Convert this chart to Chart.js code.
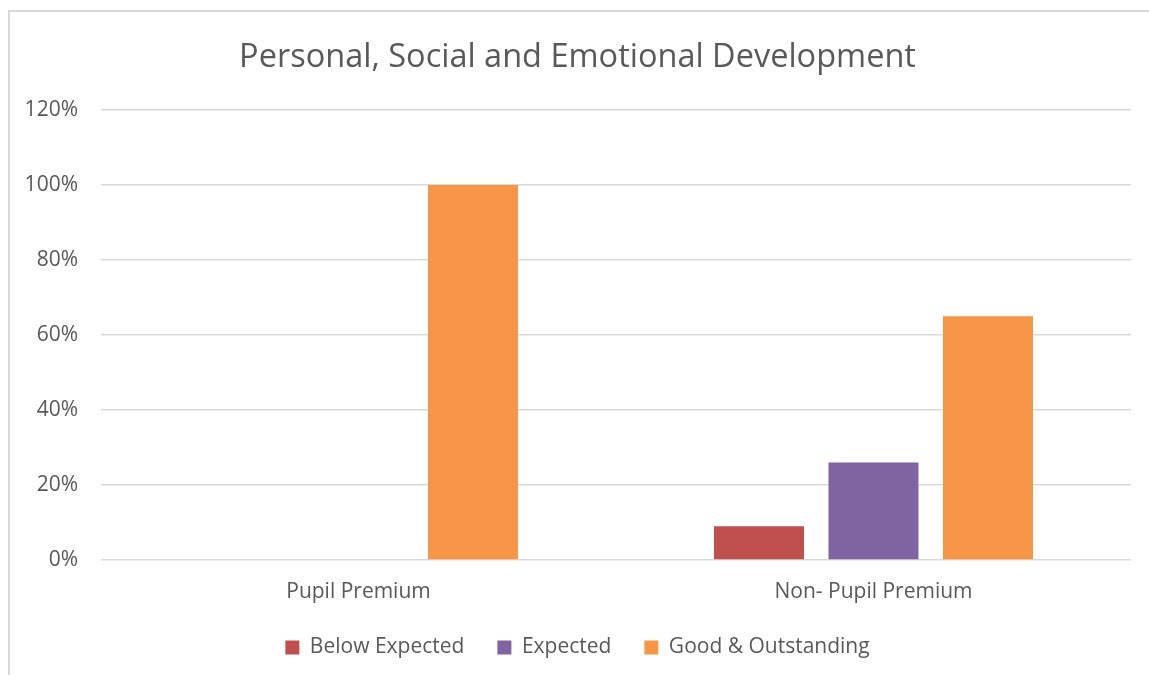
<!DOCTYPE html>
<html lang="en">
<head>
    <meta charset="UTF-8">
    <title>Personal, Social and Emotional Development</title>
    <script src="https://cdn.jsdelivr.net/npm/chart.js"></script>
    <style>
        body { margin: 0; background: #fff; }
        .moldura {
            position: absolute; left: 8px; top: 10px; right: -10px; bottom: -10px;
            border-left: 2px solid #d9d9d9; border-top: 2px solid #d9d9d9;
        }
        .grafico { position: absolute; left: 0; top: 0; width: 1149px; height: 675px; }
    </style>
</head>
<body>
    <div class="moldura"></div>
    <div class="grafico">
        <canvas id="graficoPSED"></canvas>
    </div>

<script>
    // valores (%)
    const categorias = ['Pupil Premium', 'Non- Pupil Premium']
    const abaixo = [0, 9]
    const esperado = [0, 26]
    const bomExcelente = [100, 65]
    const ticksY = ['0%', '20%', '40%', '60%', '80%', '100%', '120%']

    const cinza = '#595959'
    const fonte = "'Open Sans', sans-serif"

    new Chart(document.getElementById('graficoPSED'), {
        type: 'bar',
        data: {
            labels: categorias,
            datasets: [
                { label: 'Below Expected', data: abaixo, backgroundColor: '#C0504D' },
                { label: 'Expected', data: esperado, backgroundColor: '#8064A2' },
                { label: 'Good & Outstanding', data: bomExcelente, backgroundColor: '#F79646' }
            ]
        },
        options: {
            responsive: true,
            maintainAspectRatio: false,
            animation: false,
            datasets: { bar: { categoryPercentage: 0.667, barPercentage: 0.786 } },
            layout: { padding: { left: 24, right: 18, top: 38, bottom: 7 } },
            plugins: {
                title: {
                    display: true,
                    text: 'Personal, Social and Emotional Development',
                    color: cinza,
                    font: { family: fonte, size: 32.5, weight: 'normal' },
                    padding: { top: 0, bottom: 33 }
                },
                legend: {
                    position: 'bottom',
                    labels: {
                        color: cinza,
                        font: { family: fonte, size: 21 },
                        boxWidth: 14, boxHeight: 14, padding: 33
                    }
                },
                tooltip: { enabled: false }
            },
            scales: {
                x: {
                    grid: { display: false },
                    border: { display: false },
                    afterFit: function (escala) { escala.height = 44 },
                    ticks: { color: cinza, font: { family: fonte, size: 21 }, padding: 11 }
                },
                y: {
                    min: 0, max: 120,
                    border: { display: false },
                    grid: { color: '#d9d9d9', lineWidth: 1.5, drawTicks: false },
                    afterFit: function (escala) { escala.width = 77 },
                    ticks: {
                        stepSize: 20,
                        color: cinza,
                        padding: 23,
                        font: { family: fonte, size: 21 },
                        callback: function (valor) { return ticksY[valor / 20] }
                    }
                }
            }
        }
    })
</script>
</body>
</html>
